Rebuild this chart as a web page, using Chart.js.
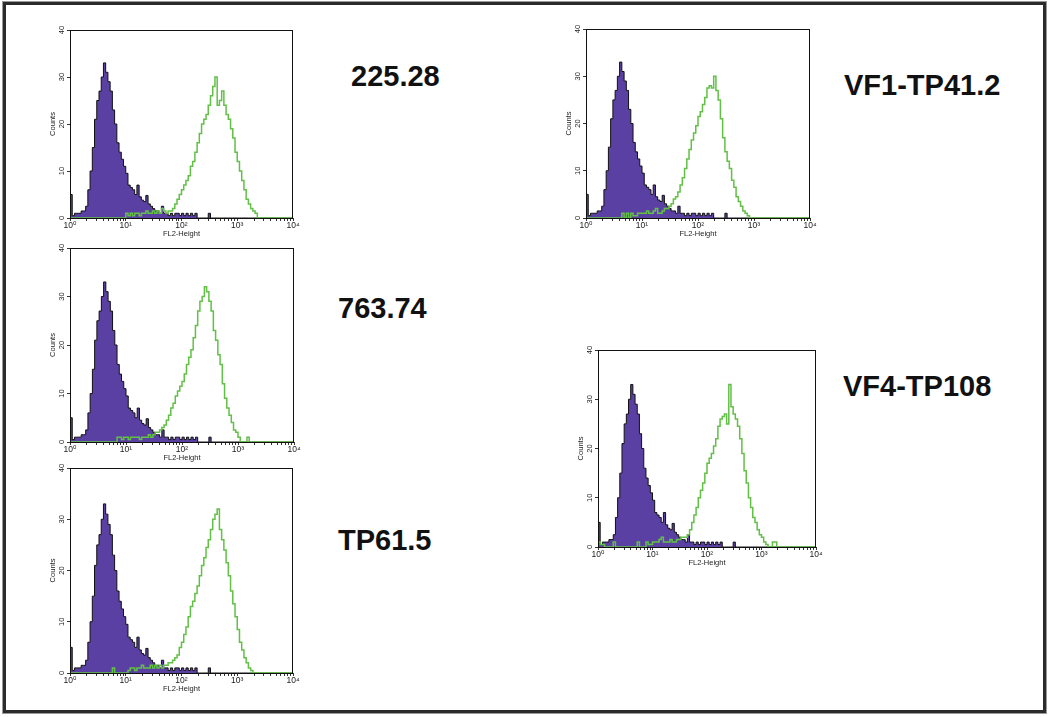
<!DOCTYPE html>
<html>
<head>
<meta charset="utf-8">
<script src="https://cdn.jsdelivr.net/npm/chart.js@4.4.1/dist/chart.umd.min.js"></script>
<style>
  body { margin: 0; background: #fff; width: 1050px; height: 717px; position: relative; overflow: hidden; }
  .frame { position: absolute; left: 3px; top: 2px; width: 1043px; height: 711px; box-sizing: border-box;
           border: 3px solid #2b2b2b; outline: 1px solid #9a9a9a; }
  canvas { position: absolute; }
  .lbl { position: absolute; font-family: "Liberation Sans", Arial, sans-serif; font-weight: bold;
         font-size: 29px; color: #111; line-height: 1; white-space: nowrap; }
</style>
</head>
<body>
<div class="frame"></div>

<canvas id="c1" width="265" height="214" style="left:38px;top:24px"></canvas>
<canvas id="c2" width="266" height="220" style="left:38px;top:242px"></canvas>
<canvas id="c3" width="265" height="231" style="left:38px;top:462px"></canvas>
<canvas id="c4" width="266" height="215" style="left:554px;top:23px"></canvas>
<canvas id="c5" width="260" height="223" style="left:566px;top:344px"></canvas>

<div class="lbl" style="left:351px;top:62px">225.28</div>
<div class="lbl" style="left:338px;top:294px">763.74</div>
<div class="lbl" style="left:338px;top:526px">TP61.5</div>
<div class="lbl" style="left:844px;top:71px">VF1-TP41.2</div>
<div class="lbl" style="left:843px;top:372px">VF4-TP108</div>

<script>
// FL2-Height channels, as log10 of intensity (10^0 .. 10^4)
const fl2Log = [
  0.00,0.04,0.08,0.12,0.16,0.20,0.24,0.28,0.32,0.36,
  0.40,0.44,0.48,0.52,0.56,0.60,0.64,0.68,0.72,0.76,
  0.80,0.84,0.88,0.92,0.96,1.00,1.04,1.08,1.12,1.16,
  1.20,1.24,1.28,1.32,1.36,1.40,1.44,1.48,1.52,1.56,
  1.60,1.64,1.68,1.72,1.76,1.80,1.84,1.88,1.92,1.96,
  2.00,2.04,2.08,2.12,2.16,2.20,2.24,2.28,2.32,2.36,
  2.40,2.44,2.48,2.52,2.56,2.60,2.64,2.68,2.72,2.76,
  2.80,2.84,2.88,2.92,2.96,3.00,3.04,3.08,3.12,3.16,
  3.20,3.24,3.28,3.32,3.36,3.40,3.44,3.48,3.52,3.56,
  3.60,3.64,3.68,3.72,3.76,3.80,3.84,3.88,3.92,3.96,
  4.00
];

// isotype control (filled purple)
const controlCounts = [
  5,0.5,1,1,1,1.5,1.5,2.5,6,10,
  15,21,25,27,30,33,31,29,27,23,
  20,16,14,12.5,11,9.5,7,6.5,6,5,
  7,4.5,3.8,3.5,4.8,3,2.5,2,1.5,1.5,
  1,2.5,1,1,0.5,1,0.5,1,1,0.5,
  1,0.5,1,0.5,1,0.5,1,0,0,0,
  0,0,1,0,0,0,0,0,0,0,
  0,0,0,0,0,0,0,0,0,0,
  0,0,0,0,0,0,0,0,0,0,
  0,0,0,0,0,0,0,0,0,0,
  0
];

// stained samples (green lines)
const counts225 = [
  0,0,0,0,0,0,0,0,0,0,
  0,0,0,0,0,0,0,0,0,0,
  0,0,0,0,0,1,0.5,1,0.5,1,
  1,0.5,1,1,1.5,1,1,1.5,1,1.5,
  1,2,1.5,1,1.5,1.5,2,3,4,5,
  6,7,8,9,11,12,14,16,18,20,
  21,22,24,26,28,30,24,25,27,24,
  22,21,19,17,14,12,10,8,6,4,
  3,2,1.5,1,0,0,0,0,0,0,
  0,0,0,0,0,0,0,0,0,0,
  0
];
const counts763 = [
  0,0,0,0,0,0,0,0,0,0,
  0,0,0,0,0,0,0,0,0,0,
  0,1,1,0.5,1,1,0.5,1,1,1,
  1,0.5,1,1,1,1.5,1,1.5,2,2,
  2.5,3,3.5,4.5,5.5,7,8,9.5,10.5,11.5,
  12.5,14,16,17.5,19,21.5,24,27,29,30,
  32,31,29,27,23,21,18,16,12,9,
  7,5.5,4,2.5,2,1,0,0,0,1,
  0,0,0,0,0,0,0,0,0,0,
  0,0,0,0,0,0,0,0,0,0,
  0
];
const countsTP615 = [
  0,0,0,0,0,0,0,0,0,0,
  0,0,0,0,0,0,0,0,0,1,
  0,0,0,0,0,0,0.5,1,1,0.5,
  1,1,1.5,1,1,1,1.5,1,1.5,1,
  1.5,1,1.5,1.5,2,2,2.5,3,3.5,5,
  6,7.5,9,11,13,14,15.5,17,19,21,
  22.5,24.5,26,28,30,31,32,28,26,24,
  21.5,19,16,13.5,11,8.5,6,4.5,3,2,
  1,0.5,0,0,0,0,0,0,0,0,
  0,0,0,0,0,0,0,0,0,0,
  0
];
const countsVF1 = [
  0,0,0,0,0,0,0,0,0,0,
  0,0,0,0,0,0,1,0,1,0,
  1,0.5,0.5,1,1,1,1,1.5,1,1,
  1.5,2,1,1,1.5,2,2,2.5,3,4,
  4.5,5.5,7,8.5,10.5,12.5,14.5,16.5,18,19.5,
  21.5,22.5,24,25.5,27.5,28,27.5,30,27,25,
  21,17,14,12,10.5,8,6.5,4.5,3.5,2.5,
  1.5,1,0.5,0,0,0,0,0,0,0,
  0,0,0,0,0,0,0,0,0,0,
  0,0,0,0,0,0,0,0,0,0,
  0
];
const countsVF4 = [
  1,0.5,0.5,0,0,0,0,1,0,0,
  0,0,0,0,0,0,0,0,1,0,
  0,0,1,0.5,0.5,1,1,1,1.5,2,
  1,1,1,1.5,1,1,1.5,1.5,2,2,
  2,2.5,3.5,5,6.5,8,10,11.5,13,15,
  17,18,19,20.5,22,24.5,26,26.5,27,25,
  33,28.5,27,26,24.5,22,19,15.5,13,10,
  8,6,5,3.5,2.5,2,1,0.5,0,0,
  1,1,0,0,0,0,0,0,0,0,
  0,0,0,0,0,0,0,0,0,0,
  0
];

const yTicks = [0, 10, 20, 30, 40];
const xTickLabels = ['10\u2070', '10\u00b9', '10\u00b2', '10\u00b3', '10\u2074'];
const xTitle = 'FL2-Height';
const yTitle = 'Counts';

const panels = [
  { id: 'c1', green: counts225 },
  { id: 'c2', green: counts763 },
  { id: 'c3', green: countsTP615 },
  { id: 'c4', green: countsVF1 },
  { id: 'c5', green: countsVF4 }
];

const smallFont = '"Liberation Sans", "DejaVu Sans", Arial, sans-serif';

// box around the plot, rotated y labels and the "Counts" title
const boxPlugin = {
  id: 'boxPlugin',
  afterDraw(chart) {
    const ctx = chart.ctx;
    const a = chart.chartArea;
    const ys = chart.scales.y;
    ctx.save();
    ctx.strokeStyle = '#111';
    ctx.lineWidth = 1;
    ctx.strokeRect(a.left + 0.5, a.top + 0.5, a.right - a.left - 1, a.bottom - a.top);
    ctx.fillStyle = '#222';
    ctx.font = '7.5px ' + smallFont;
    ctx.textAlign = 'center';
    ctx.textBaseline = 'middle';
    yTicks.forEach(v => {
      ctx.save();
      ctx.translate(a.left - 8, ys.getPixelForValue(v));
      ctx.rotate(-Math.PI / 2);
      ctx.fillText(String(v), 0, 0);
      ctx.restore();
    });
    ctx.save();
    ctx.font = '7.5px ' + smallFont;
    ctx.translate(a.left - 17, (a.top + a.bottom) / 2);
    ctx.rotate(-Math.PI / 2);
    ctx.fillText(yTitle, 0, 0);
    ctx.restore();
    ctx.restore();
  }
};

panels.forEach(p => {
  new Chart(document.getElementById(p.id), {
    type: 'line',
    data: {
      datasets: [
        {
          label: 'stained',
          data: fl2Log.map((x, i) => ({ x: x, y: p.green[i] })),
          stepped: true,
          borderColor: '#62c046',
          borderWidth: 1.5,
          pointRadius: 0,
          fill: false
        },
        {
          label: 'control',
          data: fl2Log.map((x, i) => ({ x: x, y: controlCounts[i] })),
          stepped: true,
          borderColor: '#111',
          borderWidth: 1,
          backgroundColor: '#5b40a3',
          pointRadius: 0,
          fill: 'origin'
        }
      ]
    },
    options: {
      responsive: false,
      animation: false,
      layout: { padding: { left: 0, top: 6, right: 10, bottom: 0 } },
      plugins: { legend: { display: false }, tooltip: { enabled: false } },
      scales: {
        x: {
          type: 'linear',
          min: 0,
          max: 4,
          afterBuildTicks(scale) {
            const t = [];
            for (let d = 0; d < 4; d++) {
              for (let k = 1; k < 10; k++) t.push({ value: d + Math.log10(k) });
            }
            t.push({ value: 4 });
            scale.ticks = t;
          },
          afterFit(scale) { scale.height = 20; },
          grid: { drawOnChartArea: false, drawTicks: true, tickLength: 3, color: '#333' },
          border: { display: false },
          ticks: {
            autoSkip: false,
            maxRotation: 0,
            padding: 0,
            color: '#222',
            font: { size: 8.5, family: smallFont },
            callback(v) {
              const r = Math.round(v);
              return Math.abs(v - r) < 1e-6 ? xTickLabels[r] : '';
            }
          },
          title: {
            display: true,
            text: xTitle,
            color: '#222',
            padding: 0,
            font: { size: 7.5, family: smallFont }
          }
        },
        y: {
          min: 0,
          max: 40,
          afterFit(scale) { scale.width = 32; },
          grid: { drawOnChartArea: false, drawTicks: true, tickLength: 3, color: '#333' },
          border: { display: false },
          ticks: { stepSize: 10, display: false }
        }
      }
    },
    plugins: [boxPlugin]
  });
});
</script>
</body>
</html>
